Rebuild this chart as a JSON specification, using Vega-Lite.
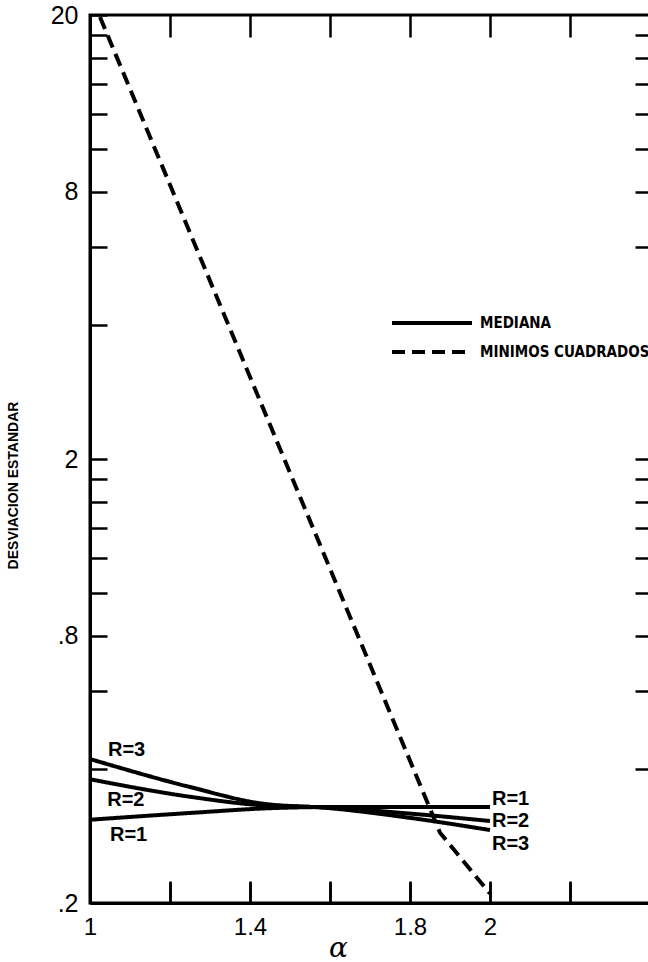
{
  "$schema": "https://vega.github.io/schema/vega-lite/v6.json",
  "width": 560,
  "height": 888,
  "autosize": "none",
  "padding": {"left": 90, "top": 15, "right": 0, "bottom": 59},
  "background": "white",
  "config": {
    "view": {"stroke": "black", "strokeWidth": 3},
    "axis": {"grid": false, "domainColor": "black", "tickColor": "black", "labelColor": "black", "titleColor": "black", "labelFont": "Liberation Sans", "domainWidth": 3, "tickWidth": 2.5}
  },
  "datasets": {
    "mediana": [
      {"serie": "R=1", "metodo": "MEDIANA", "alpha": 1.0, "sd": 0.308},
      {"serie": "R=1", "metodo": "MEDIANA", "alpha": 1.25, "sd": 0.319},
      {"serie": "R=1", "metodo": "MEDIANA", "alpha": 1.45, "sd": 0.327},
      {"serie": "R=1", "metodo": "MEDIANA", "alpha": 1.6, "sd": 0.329},
      {"serie": "R=1", "metodo": "MEDIANA", "alpha": 2.0, "sd": 0.329},
      {"serie": "R=2", "metodo": "MEDIANA", "alpha": 1.0, "sd": 0.38},
      {"serie": "R=2", "metodo": "MEDIANA", "alpha": 1.25, "sd": 0.347},
      {"serie": "R=2", "metodo": "MEDIANA", "alpha": 1.43, "sd": 0.332},
      {"serie": "R=2", "metodo": "MEDIANA", "alpha": 1.6, "sd": 0.328},
      {"serie": "R=2", "metodo": "MEDIANA", "alpha": 1.8, "sd": 0.318},
      {"serie": "R=2", "metodo": "MEDIANA", "alpha": 2.0, "sd": 0.306},
      {"serie": "R=3", "metodo": "MEDIANA", "alpha": 1.0, "sd": 0.422},
      {"serie": "R=3", "metodo": "MEDIANA", "alpha": 1.25, "sd": 0.365},
      {"serie": "R=3", "metodo": "MEDIANA", "alpha": 1.43, "sd": 0.335},
      {"serie": "R=3", "metodo": "MEDIANA", "alpha": 1.6, "sd": 0.327},
      {"serie": "R=3", "metodo": "MEDIANA", "alpha": 1.8, "sd": 0.311},
      {"serie": "R=3", "metodo": "MEDIANA", "alpha": 2.0, "sd": 0.292}
    ],
    "minimos": [
      {"serie": "MC", "metodo": "MINIMOS CUADRADOS", "alpha": 1.025, "sd": 19.8},
      {"serie": "MC", "metodo": "MINIMOS CUADRADOS", "alpha": 1.875, "sd": 0.288},
      {"serie": "MC", "metodo": "MINIMOS CUADRADOS", "alpha": 2.0, "sd": 0.21}
    ],
    "labels": [
      {"texto": "R=3", "alpha": 1.045, "sd": 0.442},
      {"texto": "R=2", "alpha": 1.043, "sd": 0.341},
      {"texto": "R=1", "alpha": 1.05, "sd": 0.284},
      {"texto": "R=1", "alpha": 2.005, "sd": 0.343},
      {"texto": "R=2", "alpha": 2.005, "sd": 0.306},
      {"texto": "R=3", "alpha": 2.005, "sd": 0.2716}
    ]
  },
  "layer": [
    {
      "data": {"name": "mediana"},
      "mark": {"type": "line", "color": "black", "strokeWidth": 4, "interpolate": "monotone"},
      "encoding": {
        "x": {
          "field": "alpha", "type": "quantitative",
          "scale": {"domain": [1, 2.4], "nice": false, "zero": false},
          "axis": {
            "orient": "bottom",
            "values": [1, 1.2, 1.4, 1.6, 1.8, 2, 2.2],
            "labelExpr": "datum.value == 1 ? '1' : datum.value == 1.4 ? '1.4' : datum.value == 1.8 ? '1.8' : datum.value == 2 ? '2' : ''",
            "tickSize": -21,
            "labelPadding": 33,
            "labelFontSize": 24,
            "labelFlush": false,
            "labelBaseline": "top",
            "grid": true,
            "gridColor": "black",
            "gridOpacity": 1,
            "gridWidth": 2.5,
            "gridDash": [22, 844, 22, 2000],
            "title": "α",
            "titleFont": "DejaVu Serif",
            "titleFontStyle": "italic",
            "titleFontWeight": "normal",
            "titleFontSize": 28,
            "titleX": 248,
            "titleY": 45,
            "titleBaseline": "middle",
            "titleAlign": "center"
          }
        },
        "y": {
          "field": "sd", "type": "quantitative",
          "scale": {"type": "log", "domain": [0.2, 20], "nice": false},
          "axis": {
            "orient": "left",
            "values": [0.2, 0.4, 0.6, 0.8, 1, 1.2, 1.4, 1.6, 1.8, 2, 4, 6, 8, 10, 12, 14, 16, 18, 20],
            "labelExpr": "datum.value == 0.2 ? '.2' : datum.value == 0.8 ? '.8' : datum.value == 2 ? '2' : datum.value == 8 ? '8' : datum.value == 20 ? '20' : ''",
            "tickSize": -17,
            "labelPadding": 29,
            "labelFontSize": 25,
            "labelFlush": false,
            "labelOverlap": false,
            "title": "DESVIACION  ESTANDAR",
            "titleFont": "Liberation Sans",
            "titleFontWeight": "bold",
            "titleFontSize": 14,
            "titleX": -77,
            "titleY": 470,
            "titleAngle": -90,
            "titleBaseline": "middle",
            "titleAlign": "center"
          }
        },
        "detail": {"field": "serie"},
        "strokeDash": {
          "field": "metodo", "type": "nominal",
          "scale": {"domain": ["MEDIANA", "MINIMOS CUADRADOS"], "range": [[1, 0], [13, 7]]},
          "legend": {
            "orient": "none",
            "legendX": 300,
            "legendY": 298,
            "title": null,
            "symbolType": "stroke",
            "symbolSize": 6400,
            "symbolStrokeWidth": 4,
            "symbolStrokeColor": "black",
            "clipHeight": 20,
            "rowPadding": 9,
            "labelOffset": 6,
            "labelFont": "DejaVu Sans Condensed",
            "labelFontWeight": "bold",
            "labelFontSize": 15,
            "labelColor": "black",
            "labelLimit": 300
          }
        }
      }
    },
    {
      "data": {"name": "minimos"},
      "mark": {"type": "line", "color": "black", "strokeWidth": 4, "interpolate": "linear"},
      "encoding": {
        "x": {"field": "alpha", "type": "quantitative", "axis": null},
        "y": {"field": "sd", "type": "quantitative", "axis": null},
        "detail": {"field": "serie"},
        "strokeDash": {"field": "metodo", "type": "nominal"}
      }
    },
    {
      "data": {"name": "labels"},
      "mark": {"type": "text", "align": "left", "baseline": "middle", "font": "Liberation Sans", "fontWeight": "bold", "fontSize": 20, "color": "black"},
      "encoding": {
        "x": {"field": "alpha", "type": "quantitative", "axis": null},
        "y": {
          "field": "sd", "type": "quantitative",
          "axis": {
            "orient": "right",
            "values": [0.4, 0.6, 0.8, 1, 1.2, 1.4, 1.6, 1.8, 2, 6, 8, 10, 12, 14, 16, 18],
            "labels": false,
            "tickSize": -15,
            "title": null
          }
        },
        "text": {"field": "texto"}
      }
    }
  ],
  "resolve": {"axis": {"x": "independent", "y": "independent"}}
}
